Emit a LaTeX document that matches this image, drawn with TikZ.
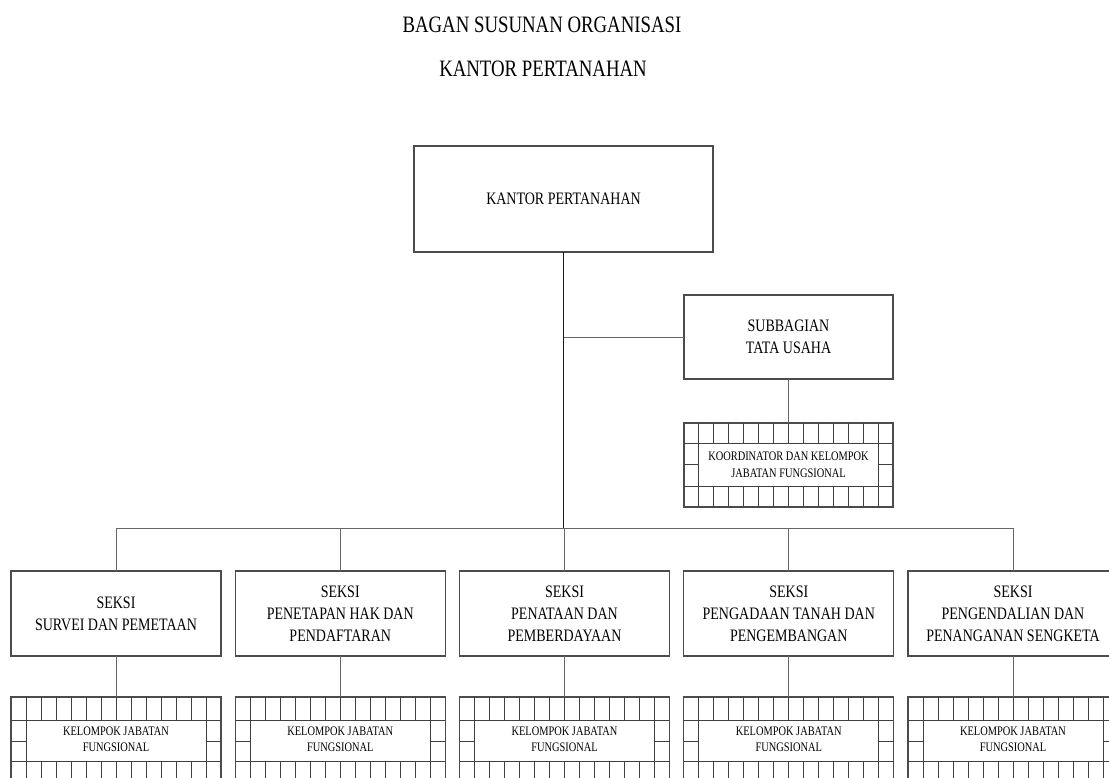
\documentclass[tikz,border=0pt]{standalone}
\usepackage{fontspec}
\setmainfont[FakeStretch=0.8]{Liberation Serif}
\usetikzlibrary{calc}
\tikzset{
  orgbox/.style={draw=black!70, line width=1.1pt, rectangle, inner sep=0pt, outer sep=0pt, align=center, fill=white},
  bigtext/.style={font=\fontsize{17.5}{22}\selectfont},
  smalltext/.style={font=\fontsize{13}{16.5}\selectfont},
  titletext/.style={font=\fontsize{23.5}{28}\selectfont, inner sep=0pt},
  link/.style={draw=black!60, line width=0.9pt},
  trunk/.style={draw=black!90, line width=0.9pt},
  gridline/.style={draw=black!75, line width=1pt},
}
\newcommand\gridlines[6]{% name, width, row1, split, row2, height
  \begin{scope}[shift={(#1.north west)}]
    \draw[gridline] (0,#3) -- (#2,#3);
    \draw[gridline] (0,#5) -- (#2,#5);
    \foreach \k in {1,...,13} {
      \draw[gridline] ({\k*#2/14},0) -- ({\k*#2/14},#3);
      \draw[gridline] ({\k*#2/14},#5) -- ({\k*#2/14},#6);
    }
    \draw[gridline] ({#2/14},#3) -- ({#2/14},#5);
    \draw[gridline] ({13*#2/14},#3) -- ({13*#2/14},#5);
    \draw[gridline] (0,#4) -- ({#2/14},#4);
    \draw[gridline] ({13*#2/14},#4) -- (#2,#4);
  \end{scope}}
\begin{document}
\begin{tikzpicture}[x=1pt, y=-1pt]
  \useasboundingbox (0,0) rectangle (1109,778);
  \clip (0,0) rectangle (1109,778);

  \node[titletext] (t1) at (542,25) {BAGAN SUSUNAN ORGANISASI};
  \node[titletext] (t2) at (543,69) {KANTOR PERTANAHAN};

  \node[orgbox, bigtext, minimum width=299pt, minimum height=106pt] (kp) at (563.5,199) {KANTOR PERTANAHAN};
  \node[orgbox, bigtext, minimum width=209pt, minimum height=84pt] (sub) at (788.5,337) {SUBBAGIAN\\TATA USAHA};
  \node[orgbox, smalltext, minimum width=209pt, minimum height=84pt] (koord) at (788.5,465) {KOORDINATOR DAN KELOMPOK\\JABATAN FUNGSIONAL};
  \gridlines{koord}{209}{20.5}{41.5}{63}{84}

  \coordinate (bus) at (564,528);

  \foreach \i/\txt in {
    0/{SEKSI\\SURVEI DAN PEMETAAN},
    1/{SEKSI\\PENETAPAN HAK DAN\\PENDAFTARAN},
    2/{SEKSI\\PENATAAN DAN\\PEMBERDAYAAN},
    3/{SEKSI\\PENGADAAN TANAH DAN\\PENGEMBANGAN},
    4/{SEKSI\\PENGENDALIAN DAN\\PENANGANAN SENGKETA}} {
    \node[orgbox, bigtext, minimum width=210pt, minimum height=85pt] (s\i) at ({116+224.25*\i},613.5) {\txt};
    \node[orgbox, smalltext, minimum width=210pt, minimum height=85pt] (g\i) at ({116+224.25*\i},739.5) {KELOMPOK JABATAN\\FUNGSIONAL};
    \gridlines{g\i}{210}{23}{44}{64}{85}
    \draw[link] (s\i.south) -- (g\i.north);
    \draw[link] (s\i.north) -- (s\i.north |- bus);
  }

  \draw[link] (s0.north |- bus) -- (s4.north |- bus);
  \draw[trunk] (kp.south) -- (kp.south |- bus);
  \draw[link] (kp.south |- sub.west) -- (sub.west);
  \draw[link] (sub.south) -- (koord.north);
\end{tikzpicture}
\end{document}
